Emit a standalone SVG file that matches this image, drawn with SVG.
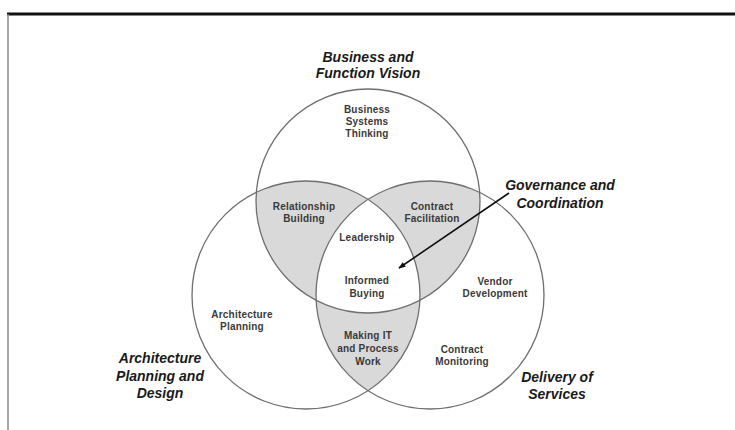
<svg xmlns="http://www.w3.org/2000/svg" width="735" height="430" viewBox="0 0 735 430">
  <style>
    .circ { fill: none; stroke: #6e6e6e; stroke-width: 1.3; }
    .shade { fill: #d9d9d9; }
    .title { font-family: "Liberation Sans", Arial, sans-serif; font-size: 14px; font-weight: bold; font-style: italic; fill: #1a1a1a; text-anchor: middle; }
    .lbl { font-family: "Liberation Sans", Arial, sans-serif; font-size: 10px; letter-spacing: 0.2px; font-weight: bold; fill: #3a3a3a; text-anchor: middle; }
  </style>
  <defs>
    <clipPath id="cTop"><circle cx="368" cy="201" r="112"/></clipPath>
    <clipPath id="cLeft"><circle cx="306" cy="295" r="114"/></clipPath>
    <clipPath id="cRight"><circle cx="430" cy="295" r="114"/></clipPath>
    <marker id="arr" viewBox="0 0 10 10" refX="9" refY="5" markerWidth="7" markerHeight="7" orient="auto" markerUnits="userSpaceOnUse">
      <path d="M0,1 L10,5 L0,9 z" fill="#111"/>
    </marker>
  </defs>
  <rect x="0" y="0" width="735" height="430" fill="#ffffff"/>
  <!-- frame -->
  <line x1="7" y1="14" x2="735" y2="14" stroke="#111" stroke-width="3"/>
  <line x1="8" y1="14" x2="8" y2="430" stroke="#8a8a8a" stroke-width="1.5"/>

  <!-- shaded pairwise intersections -->
  <g id="shading">
    <circle class="shade" cx="368" cy="201" r="112" clip-path="url(#cLeft)"/>
    <circle class="shade" cx="368" cy="201" r="112" clip-path="url(#cRight)"/>
    <circle class="shade" cx="306" cy="295" r="114" clip-path="url(#cRight)"/>
    <g clip-path="url(#cLeft)">
      <circle cx="368" cy="201" r="112" fill="#ffffff" clip-path="url(#cRight)"/>
    </g>
  </g>

  <g id="business">
    <circle class="circ" cx="368" cy="201" r="112"/>
    <text class="title" x="368" y="62">Business and</text>
    <text class="title" x="368" y="78">Function Vision</text>
    <text class="lbl" x="367" y="113">Business</text>
    <text class="lbl" x="367" y="125">Systems</text>
    <text class="lbl" x="367" y="137">Thinking</text>
  </g>
  <g id="architecture">
    <circle class="circ" cx="306" cy="295" r="114"/>
    <text class="title" x="160" y="363">Architecture</text>
    <text class="title" x="160" y="381">Planning and</text>
    <text class="title" x="160" y="398">Design</text>
    <text class="lbl" x="242" y="318">Architecture</text>
    <text class="lbl" x="242" y="330">Planning</text>
  </g>
  <g id="delivery">
    <circle class="circ" cx="430" cy="295" r="114"/>
    <text class="title" x="557" y="382">Delivery of</text>
    <text class="title" x="557" y="399">Services</text>
    <text class="lbl" x="495" y="285">Vendor</text>
    <text class="lbl" x="495" y="297">Development</text>
    <text class="lbl" x="462" y="353">Contract</text>
    <text class="lbl" x="462" y="365">Monitoring</text>
  </g>
  <g id="relationship">
    <text class="lbl" x="304" y="210">Relationship</text>
    <text class="lbl" x="304" y="222">Building</text>
  </g>
  <g id="contract-facilitation">
    <text class="lbl" x="432" y="210">Contract</text>
    <text class="lbl" x="432" y="222">Facilitation</text>
  </g>
  <g id="leadership">
    <text class="lbl" x="367" y="241">Leadership</text>
  </g>
  <g id="informed-buying">
    <text class="lbl" x="367" y="284">Informed</text>
    <text class="lbl" x="367" y="297">Buying</text>
  </g>
  <g id="making-it">
    <text class="lbl" x="368" y="339">Making IT</text>
    <text class="lbl" x="368" y="352">and Process</text>
    <text class="lbl" x="368" y="365">Work</text>
  </g>
  <g id="governance">
    <text class="title" x="560" y="190">Governance and</text>
    <text class="title" x="560" y="208">Coordination</text>
  </g>
  <g id="connectors">
    <line x1="509" y1="193" x2="399" y2="268" stroke="#111" stroke-width="1.6" marker-end="url(#arr)"/>
  </g>
</svg>
